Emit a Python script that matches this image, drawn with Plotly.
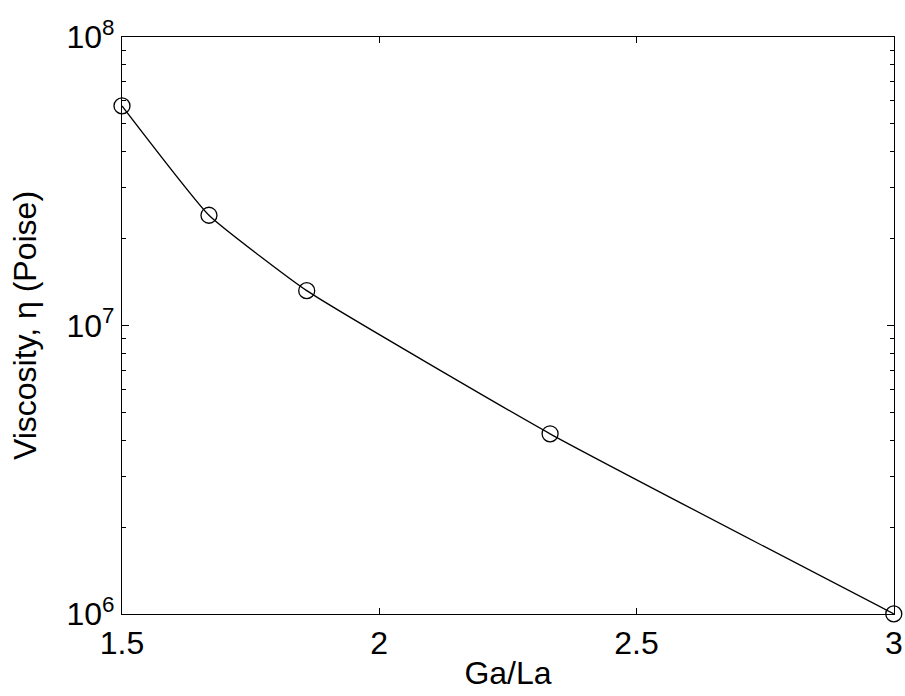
import plotly.graph_objects as go

# Ga/La ratio vs. viscosity (Poise)
ga_la = [1.5, 1.669, 1.859, 2.332, 3.0]
viscosity = [5.77e7, 2.41e7, 1.32e7, 4.21e6, 1.0e6]

y_tickvals = [1e6, 1e7, 1e8]
y_ticktext = ["10<sup>6</sup>", "10<sup>7</sup>", "10<sup>8</sup>"]
x_tickvals = [1.5, 2, 2.5, 3]
x_ticktext = ["1.5", "2", "2.5", "3"]

font_family = "Liberation Sans, Arial, Helvetica, sans-serif"

fig = go.Figure()
fig.add_trace(go.Scatter(
    x=ga_la,
    y=viscosity,
    mode="lines+markers",
    line=dict(color="black", width=1.3, shape="spline", smoothing=0.4),
    marker=dict(symbol="circle-open", size=16, color="black", line=dict(width=1.3)),
    cliponaxis=False,
    showlegend=False,
))

fig.update_layout(
    width=905,
    height=696,
    margin=dict(l=122, r=11, t=37, b=82),
    paper_bgcolor="white",
    plot_bgcolor="white",
    font=dict(family=font_family, size=32, color="black"),
    xaxis=dict(
        range=[1.5, 3.0004],
        tickvals=x_tickvals,
        ticktext=x_ticktext,
        ticks="inside",
        ticklen=6,
        tickcolor="black",
        showline=True,
        linecolor="black",
        linewidth=1.2,
        mirror="ticks",
        showgrid=False,
        zeroline=False,
        automargin=False,
        tickfont=dict(size=32),
        title=dict(text="Ga/La", font=dict(size=32), standoff=2),
    ),
    yaxis=dict(
        type="log",
        range=[5.9996, 8],
        tickvals=y_tickvals,
        ticktext=y_ticktext,
        ticks="inside",
        ticklen=7,
        tickcolor="black",
        showline=True,
        linecolor="black",
        linewidth=1.2,
        mirror="ticks",
        showgrid=False,
        zeroline=False,
        automargin=False,
        tickfont=dict(size=32),
        minor=dict(ticks="inside", ticklen=4, tickcolor="black", dtick="D1", showgrid=False),
        title=dict(text="Viscosity, η (Poise)", font=dict(size=32), standoff=20),
    ),
)

fig.write_html("out.html")
